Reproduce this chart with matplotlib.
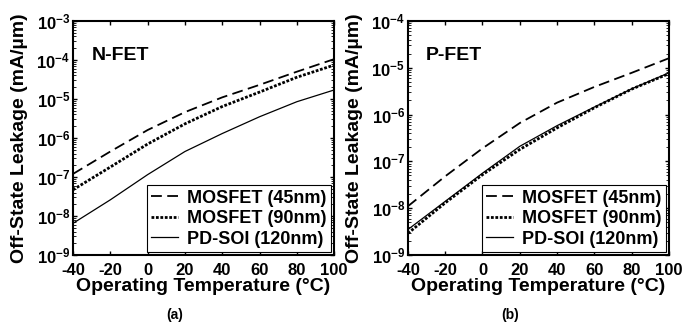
import numpy as np
import matplotlib
matplotlib.use("Agg")
import matplotlib.pyplot as plt
from matplotlib.ticker import LogLocator

plt.rcParams['font.family'] = ['Liberation Sans', 'DejaVu Sans']
plt.rcParams['font.weight'] = 'bold'
plt.rcParams['mathtext.default'] = 'bf'
plt.rcParams['axes.unicode_minus'] = False

temp = [-40, -20, 0, 20, 40, 60, 80, 100]

# N-FET leakage (mA/um)
n_mos45 = [1.2e-7, 4.5e-7, 1.6e-6, 4.6e-6, 1.1e-5, 2.3e-5, 5.0e-5, 1.05e-4]
n_mos90 = [4.7e-8, 1.8e-7, 7.0e-7, 2.3e-6, 6.4e-6, 1.5e-5, 3.6e-5, 7.4e-5]
n_soi = [6.5e-9, 2.6e-8, 1.15e-7, 4.5e-7, 1.3e-6, 3.5e-6, 8.5e-6, 1.7e-5]

# P-FET leakage (mA/um)
p_mos45 = [1.1e-8, 4.8e-8, 1.9e-7, 6.6e-7, 1.8e-6, 3.9e-6, 7.8e-6, 1.6e-5]
p_mos90 = [2.9e-9, 1.3e-8, 5.2e-8, 1.8e-7, 5.2e-7, 1.4e-6, 3.5e-6, 7.5e-6]
p_soi = [3.5e-9, 1.4e-8, 5.6e-8, 2.1e-7, 5.8e-7, 1.45e-6, 3.55e-6, 7.8e-6]

labels = ['MOSFET (45nm)', 'MOSFET (90nm)', 'PD-SOI (120nm)']

fig = plt.figure(figsize=(6.89, 3.22), dpi=100)
ax1 = fig.add_axes([0.106, 0.208, 0.379, 0.727])
ax2 = fig.add_axes([0.592, 0.208, 0.379, 0.727])


def draw(ax, s45, s90, ssoi, ylo, yhi, title, tag):
    ax.semilogy(temp, s45, color='black', lw=1.3, ls=(0, (6, 3)), label=labels[0])
    ax.semilogy(temp, s90, color='black', lw=2.0, ls=(0, (1, 0.6)), label=labels[1])
    ax.semilogy(temp, ssoi, color='black', lw=0.9, ls='-', label=labels[2])
    ax.set_xlim(-40, 100)
    ax.set_ylim(ylo, yhi)
    ax.set_xticks(range(-40, 101, 20))
    ax.yaxis.set_major_locator(LogLocator(base=10, numticks=20))
    ax.yaxis.set_minor_locator(LogLocator(base=10, subs=np.arange(2, 10), numticks=20))
    ax.tick_params(axis='both', which='both', direction='in', top=True, right=True)
    ax.tick_params(axis='both', which='major', length=3, width=1, labelsize=12, pad=2)
    ax.tick_params(axis='x', which='major', pad=5.5)
    ax.tick_params(axis='y', which='minor', length=2, width=0.6)
    for sp in ax.spines.values():
        sp.set_linewidth(1.5)
    ax.set_xlabel('Operating Temperature (°C)', fontsize=14, fontweight='bold', labelpad=0)
    ax.set_ylabel('Off-State Leakage (mA/µm)', fontsize=14, fontweight='bold', labelpad=6)
    ax.text(0.07, 0.835, title, transform=ax.transAxes, fontsize=14, fontweight='bold')
    ax.text(0.39, -0.255, tag, transform=ax.transAxes, fontsize=10, fontweight='bold',
            ha='center', va='center')
    leg = ax.legend(loc='lower right', fontsize=13, frameon=True, fancybox=False,
                    edgecolor='black', handlelength=1.5, handletextpad=0.5,
                    borderpad=0.25, labelspacing=0.2, borderaxespad=0.15)
    leg.get_frame().set_linewidth(0.8)
    leg.get_frame().set_alpha(1)


draw(ax1, n_mos45, n_mos90, n_soi, 1e-9, 1e-3, 'N-FET', '(a)')
draw(ax2, p_mos45, p_mos90, p_soi, 1e-9, 1e-4, 'P-FET', '(b)')

fig.savefig('out.png', dpi=100)
